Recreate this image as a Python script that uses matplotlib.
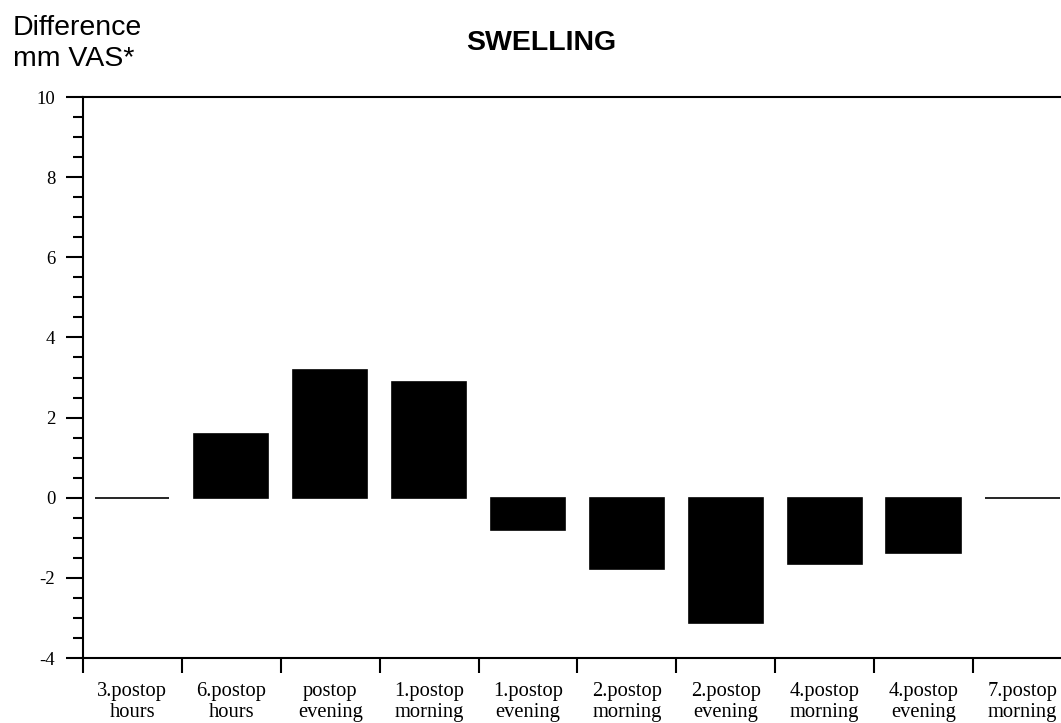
"""
Swelling: difference in mm VAS per postoperative time point (bar chart).
"""

import matplotlib
matplotlib.use("Agg")

import matplotlib.pyplot as plt
import numpy as np

# --- Datos ---
momentos = [
    "3.postop\nhours", "6.postop\nhours", "postop\nevening", "1.postop\nmorning",
    "1.postop\nevening", "2.postop\nmorning", "2.postop\nevening", "4.postop\nmorning",
    "4.postop\nevening", "7.postop\nmorning",
]
diferencia = [0.0, 1.6, 3.19, 2.89, -0.8, -1.77, -3.12, -1.65, -1.37, 0.0]

y_major = [-4, -2, 0, 2, 4, 6, 8, 10]

SERIF = "Liberation Serif"
SANS = "Liberation Sans"

fig = plt.figure(figsize=(10.61, 7.23), dpi=100)
ax = fig.add_axes([0.0782, 0.0899, 1.0 - 0.0782, 0.7759])

x = np.arange(len(momentos)) + 0.5
ax.bar(x, diferencia, width=0.75, color="black", edgecolor="black", linewidth=1.2)

ax.set_xlim(0, 9.89)
ax.set_ylim(-4, 10)

# spines: izquierda, abajo y arriba (derecha fuera del recorte)
ax.spines["right"].set_visible(False)
for lado in ("left", "bottom", "top"):
    ax.spines[lado].set_linewidth(1.5)

# eje y: mayores cada 2, menores cada 0.5
ax.set_yticks(y_major)
ax.set_yticklabels([str(v) for v in y_major], fontfamily=SERIF, fontsize=13.5)
ax.set_yticks(np.arange(-4, 10.01, 0.5), minor=True)
ax.tick_params(axis="y", which="major", direction="out", length=12, width=1.5, pad=8)
ax.tick_params(axis="y", which="minor", direction="out", length=7, width=1.5)

# eje x: marcas en los límites de categoría, etiquetas en el centro
ax.set_xticks(np.arange(0, 10))
ax.set_xticklabels([])
ax.set_xticks(x, minor=True)
ax.set_xticklabels(momentos, minor=True, fontfamily=SERIF, fontsize=14.8, linespacing=1.2)
ax.tick_params(axis="x", which="major", direction="out", length=11, width=1.5)
ax.tick_params(axis="x", which="minor", length=0, pad=17)

fig.text(0.51, 0.94, "SWELLING", fontfamily=SANS, fontsize=20.5, fontweight="bold",
         ha="center", va="center")
fig.text(0.012, 0.979, "Difference\nmm VAS*", fontfamily=SANS, fontsize=20.5,
         ha="left", va="top", linespacing=1.25)

fig.savefig("out.png", dpi=100)
